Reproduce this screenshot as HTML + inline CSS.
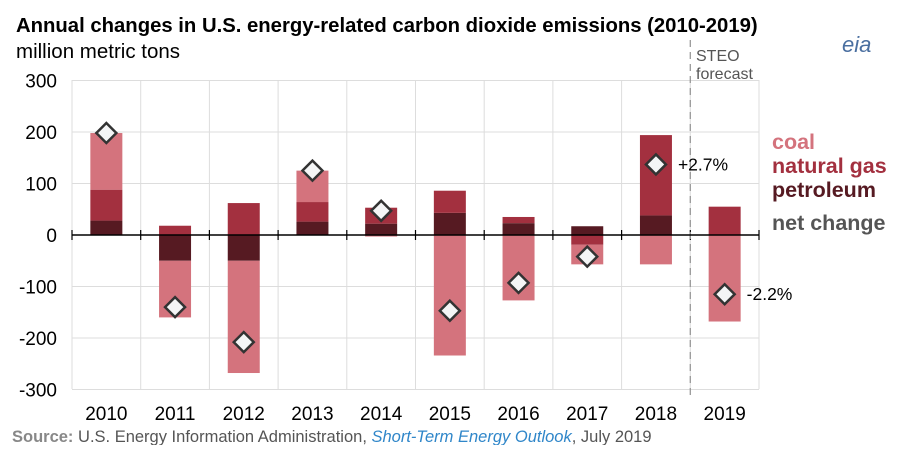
<!DOCTYPE html>
<html><head><meta charset="utf-8"><style>
body{margin:0;background:#fff;font-family:"Liberation Sans",Arial,sans-serif;}
svg text{font-family:"Liberation Sans",Arial,sans-serif;}
</style></head><body>
<svg id="chart" width="900" height="445">
<text x="16" y="32" font-size="20.3" font-weight="bold" fill="#000">Annual changes in U.S. energy-related carbon dioxide emissions (2010-2019)</text>
<text x="16" y="58" font-size="20.5" fill="#000">million metric tons</text>
<text x="842" y="52" font-size="22" fill="#4a6fa0" font-style="italic">eia</text>
<text x="696" y="61" font-size="16" fill="#555">STEO</text>
<text x="696" y="79" font-size="16" fill="#555">forecast</text>
<g id="grid"></g><g id="bars"></g><g id="axis"></g><g id="marks"></g>
<text x="772" y="149" font-size="21.5" font-weight="bold" fill="#d4737d">coal</text>
<text x="772" y="173" font-size="21.5" font-weight="bold" fill="#a3303f">natural gas</text>
<text x="772" y="197" font-size="21.5" font-weight="bold" fill="#561a22">petroleum</text>
<text x="772" y="230" font-size="21.5" font-weight="bold" fill="#555">net change</text>
<text x="12" y="442" font-size="16.5" fill="#555"><tspan font-weight="bold" fill="#888">Source:</tspan> U.S. Energy Information Administration, <tspan fill="#2f86c9" font-style="italic">Short-Term Energy Outlook</tspan>, July 2019</text>
</svg>
<script>
const years=["2010","2011","2012","2013","2014","2015","2016","2017","2018","2019"];
const petroleum=[28,-50,-50,26,22,43,23,17,38,0];
const gas=[60,18,62,38,31,43,12,-19,156,55];
const coal=[110,-110,-218,61,-3,-234,-127,-38,-57,-168];
const net=[198,-140,-208,125,47,-147,-93,-42,137,-115];
const yTicks=[300,200,100,0,-100,-200,-300];
const annotations=[{i:8,t:"+2.7%"},{i:9,t:"-2.2%"}];
const NS="http://www.w3.org/2000/svg";
const L=72,R=759,T=80,B=389;
const bw=(R-L)/years.length;
const y=v=>235-v*(B-T)/600;
const xc=i=>L+bw*(i+0.5);
function mk(p,tag,a){const e=document.createElementNS(NS,tag);for(const k in a)e.setAttribute(k,a[k]);document.getElementById(p).appendChild(e);return e;}
yTicks.forEach(v=>{
 const l=mk("grid","line",{x1:L,x2:R,y1:y(v),y2:y(v),stroke:"#ddd","stroke-width":1});
 
 
 const t=mk("grid","text",{x:57,y:y(v)+7,"text-anchor":"end","font-size":19,fill:"#000"});t.textContent=v;
 
 
});
for(let i=0;i<=years.length;i++){
 const x=L+bw*i;
 const g=mk("grid","line",{x1:x,x2:x,y1:T,y2:B,stroke:"#ddd","stroke-width":1});
 
 
 const tk=mk("axis","line",{x1:x,x2:x,y1:y(0)-5,y2:y(0)+5,stroke:"#000","stroke-width":1.2});
 
 
}
const d=mk("axis","line",{x1:L+bw*9,x2:L+bw*9,y1:40,y2:B+6,stroke:"#999","stroke-width":1.3,"stroke-dasharray":"7,5"});


const za=mk("axis","line",{x1:L,x2:R,y1:y(0),y2:y(0),stroke:"#000","stroke-width":1.5});


const series=[["petroleum",petroleum,"#561a22"],["natural-gas",gas,"#a3303f"],["coal",coal,"#d4737d"]];
years.forEach((yr,i)=>{
 let pos=0,neg=0;
 series.forEach(([n,arr,c])=>{
  const v=arr[i];let a,b;
  if(v>=0){a=pos;b=pos+v;pos=b;}else{a=neg;b=neg+v;neg=b;}
  const r=mk("bars","rect",{x:xc(i)-16,width:32,y:Math.min(y(a),y(b)),height:Math.abs(y(a)-y(b)),fill:c});
  
  
 });
 const cx=xc(i),cy=y(net[i]);
 const p=mk("marks","polygon",{points:`${cx},${cy-10} ${cx+10},${cy} ${cx},${cy+10} ${cx-10},${cy}`,fill:"#f4f5f6",stroke:"#333","stroke-width":2.5});
 
 
 const t=mk("axis","text",{x:cx,y:420,"text-anchor":"middle","font-size":19,fill:"#000"});t.textContent=yr;
 
 
});
annotations.forEach(a=>{
 const t=mk("marks","text",{x:xc(a.i)+22,y:y(net[a.i])+6,"font-size":17.5,fill:"#000"});t.textContent=a.t;
 
 
});
</script>
</body></html>
